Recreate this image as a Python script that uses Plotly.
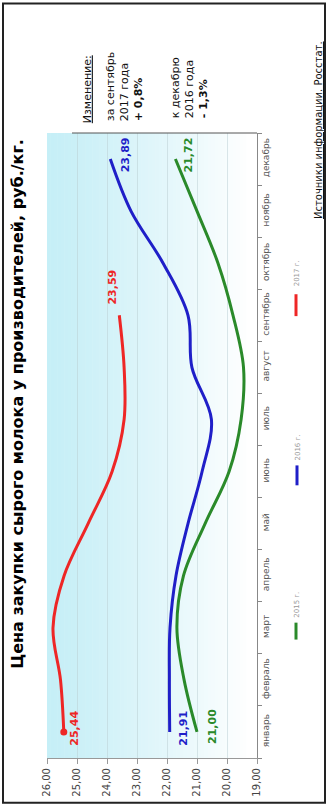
import plotly.graph_objects as go

months = ["январь", "февраль", "март", "апрель", "май", "июнь", "июль",
          "август", "сентябрь", "октябрь", "ноябрь", "декабрь"]
v2015 = [21.00, 21.43, 21.67, 21.45, 20.73, 19.93, 19.53, 19.45, 19.80, 20.30, 21.00, 21.72]
v2016 = [21.91, 21.92, 21.90, 21.70, 21.30, 20.83, 20.52, 21.17, 21.30, 22.13, 23.20, 23.89]
v2017 = [25.44, 25.55, 25.80, 25.43, 24.63, 23.83, 23.43, 23.43, 23.59]
value_ticks = [19, 20, 21, 22, 23, 24, 25, 26]
value_ticktext = ["19,00", "20,00", "21,00", "22,00", "23,00", "24,00", "25,00", "26,00"]
series_names = ["2015 г.", "2016 г.", "2017 г."]
colors = ["#2a8a2a", "#1f1fc8", "#ee2626"]

W, H = 331, 809
L, R, T, B = 47, 257, 133, 761  # plot area in pixels


def px(x):
    return (x - L) / (R - L)


def py(y):
    return (B - y) / (B - T)


FONT = "DejaVu Sans"
fig = go.Figure()

for vals, name, col in zip([v2015, v2016, v2017], series_names, colors):
    fig.add_trace(go.Scatter(
        x=vals, y=months[:len(vals)], mode="lines", name=name,
        line=dict(color=col, width=3, shape="spline", smoothing=1.0),
        showlegend=False, hoverinfo="skip"))

fig.add_trace(go.Scatter(x=[v2017[0]], y=[months[0]], mode="markers",
                         marker=dict(color=colors[2], size=7), showlegend=False))

shapes = []
# gradient background
N = 60
for i in range(N):
    t = i / N
    f = min(1.0, t / 0.95)
    r = int(198 + (255 - 198) * f ** 1.2)
    g = int(239 + (255 - 239) * f ** 1.2)
    b = int(247 + (255 - 247) * f ** 1.2)
    shapes.append(dict(type="rect", xref="paper", yref="paper", x0=t, x1=t + 1 / N + 0.002,
                       y0=0, y1=1, fillcolor=f"rgb({r},{g},{b})", line=dict(width=0), layer="below"))
# top line
shapes.append(dict(type="line", xref="paper", yref="paper", x0=px(72), x1=1, y0=1, y1=1,
                   line=dict(color="#555", width=1)))
# frame
shapes.append(dict(type="rect", xref="paper", yref="paper", x0=px(3), x1=px(325), y0=py(806), y1=py(3),
                   line=dict(color="#222", width=2)))
# legend lines
leg = [(296, 625, 642, 607), (297, 467, 487, 449), (296, 295, 317, 274)]
for (lx, y0, y1, ty), col in zip(leg, colors):
    shapes.append(dict(type="line", xref="paper", yref="paper", x0=px(lx), x1=px(lx),
                       y0=py(y1), y1=py(y0), line=dict(color=col, width=3)))

ann = []
ann.append(dict(text="<b>Цена закупки сырого молока у производителей, руб./кг.</b>",
                xref="paper", yref="paper", x=px(18), y=py(405), textangle=-90,
                showarrow=False, font=dict(family=FONT, size=16, color="#000"),
                xanchor="center", yanchor="middle"))
for (lx, y0, y1, ty), name in zip(leg, series_names):
    ann.append(dict(text=name, xref="paper", yref="paper", x=px(lx + 1), y=py(ty), textangle=-90,
                    showarrow=False, font=dict(family=FONT, size=7, color="#999"),
                    xanchor="center", yanchor="middle"))

# data labels
labels = [
    (v2017[0], months[0], "25,44", colors[2], 11, 4),
    (v2016[0], months[0], "21,91", colors[1], 14, 4),
    (v2015[0], months[0], "21,00", colors[0], 16, 5),
    (v2017[-1], months[len(v2017) - 1], "23,59", colors[2], -7, 28),
    (v2016[-1], months[-1], "23,89", colors[1], 15, 4),
    (v2015[-1], months[-1], "21,72", colors[0], 13, 4),
]
for x, y, t, col, xs, ys in labels:
    ann.append(dict(text=f"<b>{t}</b>", x=x, y=y, xref="x", yref="y", xshift=xs, yshift=ys,
                    textangle=-90, showarrow=False, font=dict(family=FONT, size=11, color=col),
                    xanchor="center", yanchor="middle"))

ann.append(dict(text="<u>Изменение:</u>", xref="paper", yref="paper", x=px(87), y=py(89),
                textangle=-90, showarrow=False, font=dict(family=FONT, size=11, color="#111"),
                xanchor="center", yanchor="middle"))
ann.append(dict(text="за сентябрь<br>2017 года<br><b>+ 0,8%</b>", xref="paper", yref="paper",
                x=px(125), y=py(87), align="left", textangle=-90, showarrow=False,
                font=dict(family=FONT, size=11, color="#111"), xanchor="center", yanchor="middle"))
ann.append(dict(text="к декабрю<br>2016 года<br><b>- 1,3%</b>", xref="paper", yref="paper",
                x=px(190), y=py(88), align="left", textangle=-90, showarrow=False,
                font=dict(family=FONT, size=11, color="#111"), xanchor="center", yanchor="middle"))
ann.append(dict(text="<u>Источники информации. Росстат.</u>", xref="paper", yref="paper",
                x=px(318), y=py(130), textangle=-90, showarrow=False,
                font=dict(family=FONT, size=10, color="#111"), xanchor="center", yanchor="middle"))

fig.update_layout(
    width=W, height=H, autosize=False,
    margin=dict(l=L, r=W - R, t=T, b=H - B, pad=0),
    paper_bgcolor="white", plot_bgcolor="white",
    shapes=shapes, annotations=ann,
    font=dict(family=FONT),
    xaxis=dict(range=[26, 19], tickvals=value_ticks, ticktext=value_ticktext, tickangle=-90,
               showgrid=True, gridcolor="rgba(185,205,210,0.5)", gridwidth=1, zeroline=False,
               showline=True, linecolor="#999", ticks="outside", ticklen=5, tickcolor="#999",
               tickfont=dict(family=FONT, size=10, color="#444"), fixedrange=True),
    yaxis=dict(type="category", categoryorder="array", categoryarray=months, range=[-0.5, 11.5],
               side="right", tickangle=-90, showgrid=False, zeroline=False, showline=True,
               linecolor="#888", ticks="outside", ticklen=4, tickcolor="#888", tickson="boundaries",
               tickfont=dict(family=FONT, size=9, color="#555"), fixedrange=True),
)

fig.write_html("out.html")
